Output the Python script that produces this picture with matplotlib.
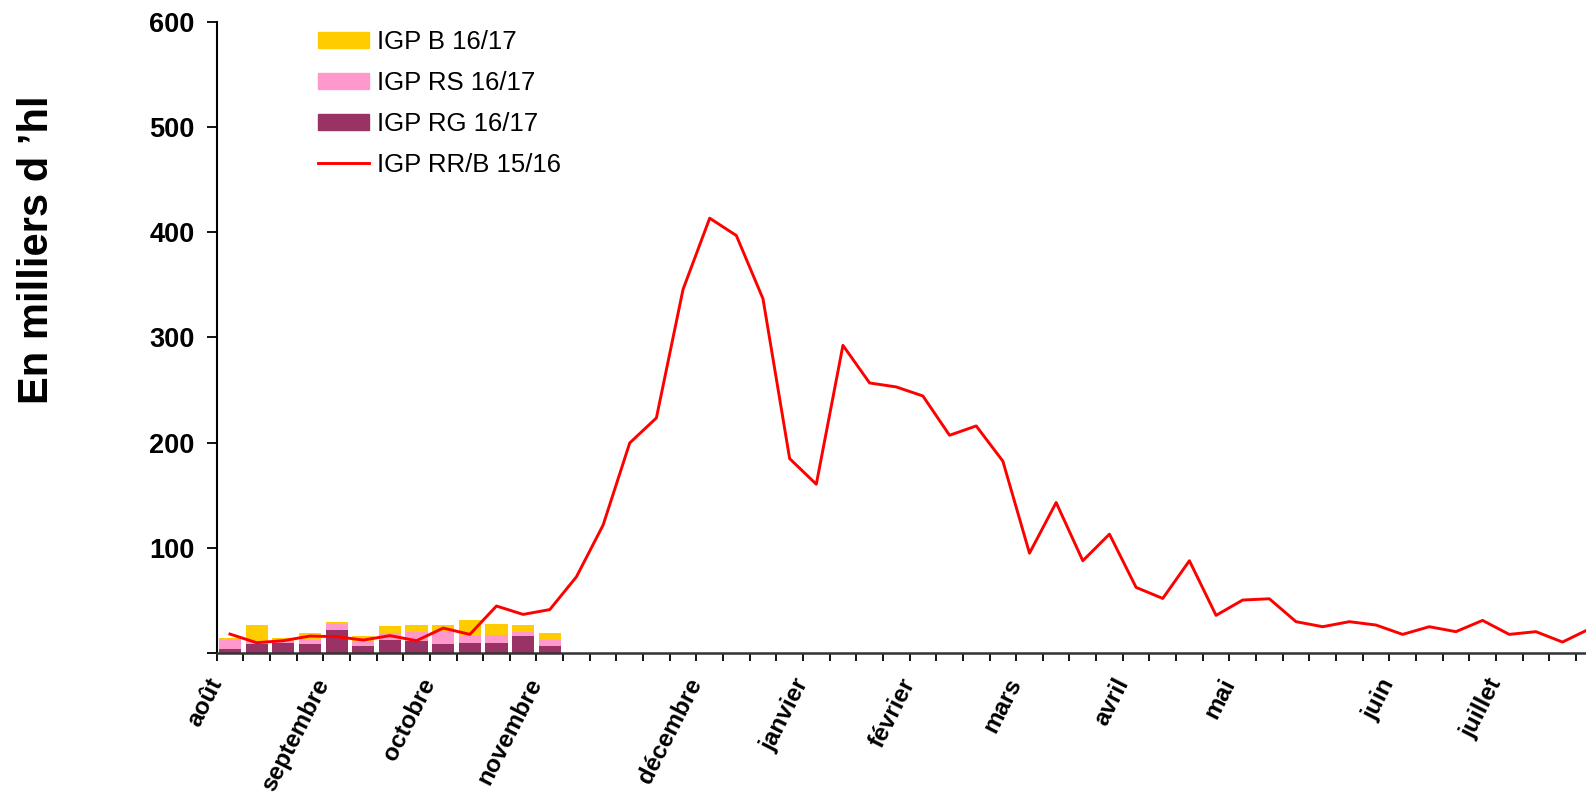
import numpy as np
import matplotlib
matplotlib.use("Agg")
import matplotlib.pyplot as plt
from matplotlib.patches import Patch
from matplotlib.lines import Line2D

plt.rcParams['font.family'] = ['Liberation Sans', 'DejaVu Sans']

# weekly campaign, 52 weeks starting in August
n_weeks = 52
month_labels = ["août", "septembre", "octobre", "novembre", "décembre", "janvier",
                "février", "mars", "avril", "mai", "juin", "juillet"]
month_weeks = [0, 4, 8, 12, 18, 22, 26, 30, 34, 38, 44, 48]

# 2016/17 campaign (stacked bars), thousands of hl
igp_rg_1617 = [3.5, 8.2, 9.5, 8.2, 21.9, 6.3, 12.0, 11.1, 8.2, 9.2, 9.2, 15.8, 6.3]
igp_rs_1617 = [8.2, 1.5, 2.0, 3.5, 5.0, 4.2, 6.4, 8.2, 11.1, 6.6, 7.6, 3.5, 5.7]
igp_b_1617 = [2.2, 16.6, 2.4, 7.0, 2.3, 5.3, 6.9, 7.0, 7.0, 15.3, 10.4, 7.0, 6.7]

# 2015/16 campaign (line), thousands of hl
igp_rrb_1516 = [17.7, 9.5, 11.4, 15.8, 15.2, 12.0, 16.2, 11.4, 23.4, 17.4,
                44.4, 36.4, 41.0, 72.2, 121.4, 199.6, 223.4, 345.7, 413.5, 397.0,
                336.8, 184.7, 160.3, 292.5, 256.7, 252.9, 244.3, 206.9, 215.8, 182.3,
                94.7, 142.9, 87.5, 112.8, 62.1, 51.6, 87.5, 35.5, 50.1, 51.3,
                29.5, 24.7, 29.5, 26.3, 17.4, 24.7, 20.0, 30.7, 17.4, 20.0,
                10.1, 22.5]

col_b = "#FFCC00"
col_rs = "#FF99CC"
col_rg = "#993366"
col_line = "#FF0000"

fig = plt.figure(figsize=(15.86, 7.94), dpi=100)
ax = fig.add_axes([0.1366, 0.178, 0.8738, 0.794])

xb = np.arange(len(igp_rg_1617))
rg = np.array(igp_rg_1617)
rs = np.array(igp_rs_1617)
b = np.array(igp_b_1617)
w = 0.83
ax.bar(xb, rg, width=w, color=col_rg, zorder=2)
ax.bar(xb, rs, width=w, bottom=rg, color=col_rs, zorder=2)
ax.bar(xb, b, width=w, bottom=rg + rs, color=col_b, zorder=2)

ax.plot(np.arange(n_weeks), igp_rrb_1516, color=col_line, lw=2.1, zorder=3)

ax.set_xlim(-0.5, n_weeks - 0.5)
ax.set_ylim(0, 600)

# ticks between categories, labels on the month weeks (Excel puts the
# end of rotated labels a bit left of the category centre)
ax.xaxis.remove_overlapping_locs = False
ax.set_xticks(np.arange(-0.5, n_weeks, 1))
ax.set_xticklabels([])
ax.set_xticks(np.array(month_weeks) - 0.5, minor=True)
ax.set_xticklabels(month_labels, minor=True, rotation=63, ha="right", va="center",
                   rotation_mode="anchor", fontsize=17.5, fontweight="bold")
ax.tick_params(axis="x", which="major", direction="out", length=6, width=1.3)
ax.tick_params(axis="x", which="minor", length=0, pad=19.5)

ax.set_yticks(np.arange(0, 601, 100))
ax.set_yticklabels([""] + [str(v) for v in range(100, 601, 100)],
                   fontsize=19.5, fontweight="bold")
ax.tick_params(axis="y", direction="out", length=7, width=1.3, pad=9)

for s in ["top", "right"]:
    ax.spines[s].set_visible(False)
ax.spines["left"].set_linewidth(1.5)
ax.spines["bottom"].set_linewidth(1.8)
ax.spines["bottom"].set_color("#333333")

ax.set_ylabel("En milliers d ’hl", fontsize=30, fontweight="bold")
ax.yaxis.set_label_coords(0.036, 0.686, transform=fig.transFigure)

handles = [Patch(color=col_b), Patch(color=col_rs), Patch(color=col_rg),
           Line2D([], [], color=col_line, lw=2.1)]
labels = ["IGP B 16/17", "IGP RS 16/17", "IGP RG 16/17", "IGP RR/B 15/16"]
ax.legend(handles, labels, loc="upper left", bbox_to_anchor=(0.2005, 0.9625),
          bbox_transform=fig.transFigure, frameon=False, fontsize=18.5,
          borderpad=0, borderaxespad=0, handlelength=1.98, handleheight=0.58,
          handletextpad=0.3, labelspacing=0.66)

fig.savefig("out.png", dpi=100)
